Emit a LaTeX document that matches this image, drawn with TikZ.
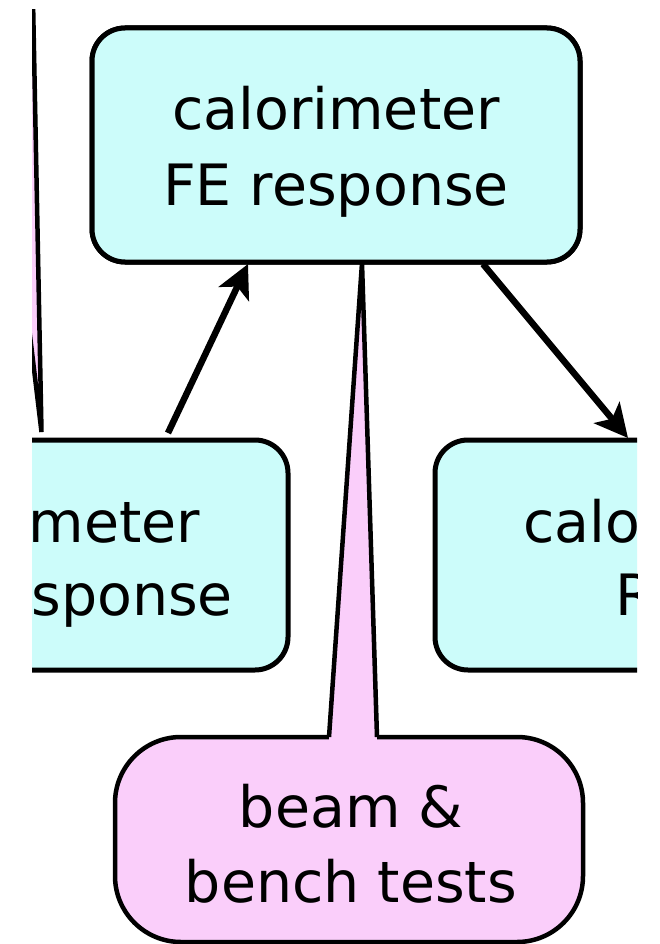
\documentclass[tikz,border=0pt]{standalone}
\usepackage{fontspec}
\setmainfont{DejaVu Sans}
\usetikzlibrary{arrows.meta,calc}
\definecolor{boxcyan}{RGB}{204,252,250}
\definecolor{notepink}{RGB}{250,206,250}
\begin{document}
\begin{tikzpicture}[x=1pt,y=-1pt,
  stage/.style={draw=black, line width=5pt, fill=boxcyan, rounded corners=33pt,
    minimum width=488pt, minimum height=230pt, inner sep=0pt, outer sep=0pt},
  notebox/.style={draw=black, line width=4.5pt, fill=notepink, rounded corners=66pt,
    minimum width=468pt, minimum height=205pt, inner sep=0pt, outer sep=0pt},
  pointer/.style={line width=4.5pt},
  lbl/.style={font=\fontsize{57}{75}\selectfont, inner sep=0pt, outer sep=0pt},
  flow/.style={line width=6.5pt, -{Stealth[length=33pt,width=33pt,inset=8pt]}}]
\useasboundingbox (0,0) rectangle (659,944);
\fill[white] (0,0) rectangle (659,944);
\begin{scope}
  \clip (32,10) rectangle (637,944);
  % boxes
  \node[stage, minimum height=234pt] (fe) at (336,145) {};
  \node[stage] (lbox) at (44,555) {};
  \node[stage] (rbox) at (679,555) {};
  \node[notebox] (beam) at (349,839.5) {};
  % pointer of the note at the left edge
  \coordinate (ltip) at ([xshift=-2.5pt,yshift=8pt]lbox.north);
  \fill[notepink] (ltip) -- (33,0) -- (-10,0) -- cycle;
  \draw[pointer] (-10,0) -- (ltip) -- (33,0);
  % pointer of the test note
  \coordinate (btip) at ([xshift=26pt,yshift=-1pt]fe.south);
  \coordinate (bl) at ([xshift=-20pt]beam.north);
  \coordinate (br) at ([xshift=28pt]beam.north);
  \fill[notepink] ([yshift=-3pt]bl) -- (btip) -- ([yshift=-3pt]br) -- cycle;
  \draw[pointer] (bl) -- (btip) -- (br);
  % redraw the top box over the pointer tip
  \node[stage, minimum height=234pt] at (fe.center) {};
  % labels
  \node[lbl, anchor=base] (fe1) at ([yshift=15pt]fe.center) {calorimeter};
  \node[lbl, anchor=base] (fe2) at ([yshift=-60pt]fe.center) {FE response};
  \node[lbl, anchor=base east] (l1) at ([xshift=156pt,yshift=13pt]lbox.center) {meter};
  \node[lbl, anchor=base east] (l2) at ([xshift=189pt,yshift=-60pt]lbox.center) {sponse};
  \node[lbl, anchor=base west] (r1) at ([xshift=-156pt,yshift=13pt]rbox.center) {calo};
  \node[lbl, anchor=base west] (r2) at ([xshift=-64pt,yshift=-60pt]rbox.center) {R};
  \node[lbl, anchor=base] (b1) at ([xshift=2pt,yshift=12.5pt]beam.center) {beam \&};
  \node[lbl, anchor=base] (b2) at ([xshift=2pt,yshift=-62.5pt]beam.center) {bench tests};
  % connectors
  \draw[flow] ([xshift=124pt,yshift=7pt]lbox.north) -- ([xshift=-88pt,yshift=-2pt]fe.south);
  \draw[flow] ([xshift=147pt,yshift=-2pt]fe.south) -- ([xshift=-51pt,yshift=2pt]rbox.north);
\end{scope}
\end{tikzpicture}
\end{document}
